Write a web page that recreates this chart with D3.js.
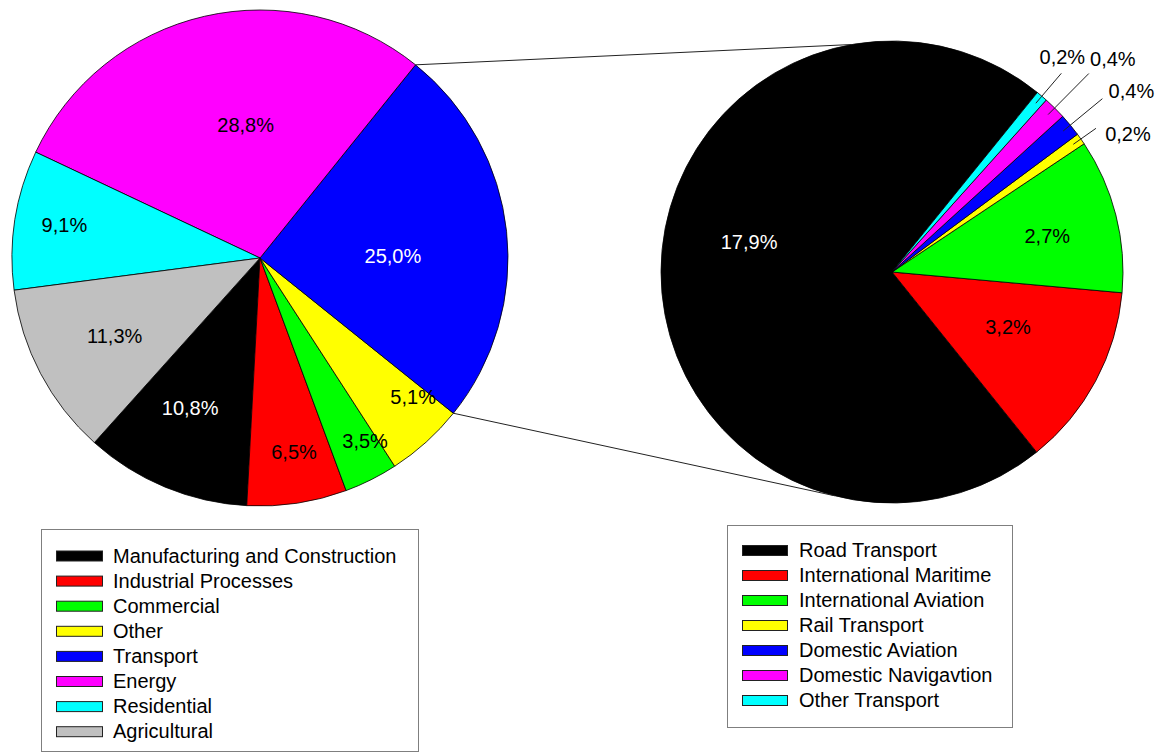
<!DOCTYPE html>
<html>
<head>
<meta charset="utf-8">
<script src="https://cdn.jsdelivr.net/npm/d3@7"></script>
<style>
  html, body { margin: 0; padding: 0; background: #fff; }
  svg { display: block; font-family: "Liberation Sans", Arial, sans-serif; }
</style>
</head>
<body>
<svg id="chart" width="1160" height="753"></svg>
<script>
// ---- data ----
const mainCategories = ["Manufacturing and Construction", "Industrial Processes", "Commercial", "Other", "Transport", "Energy", "Residential", "Agricultural"];
const mainValues = [10.8, 6.5, 3.5, 5.1, 25.0, 28.8, 9.1, 11.3];
const mainColors = ["#000000", "#ff0000", "#00ff00", "#ffff00", "#0000ff", "#ff00ff", "#00ffff", "#c0c0c0"];

const subCategories = ["Road Transport", "International Maritime", "International Aviation", "Rail Transport", "Domestic Aviation", "Domestic Navigavtion", "Other Transport"];
const subValues = [17.9, 3.2, 2.7, 0.2, 0.4, 0.4, 0.2];
const subColors = ["#000000", "#ff0000", "#00ff00", "#ffff00", "#0000ff", "#ff00ff", "#00ffff"];

// ---- layout (not data) ----
const mainCenter = [260, 258], mainR = 248;
const subCenter = [892, 272], subR = 231;
const deg = Math.PI / 180;
const mainStart = 221.9, subStart = 399;
const mainLabelRadius = [0.667, 0.795, 0.85, 0.834, 0.536, 0.54, 0.80, 0.664];
const mainLabelTurn = [2.5, -1.3, -3.3, -5.7, 5.3, 6.8, 0.7, -0.3];
const subLabelRadius = [0.632, 0.556, 0.69, null, null, null, null];
const subLabelTurn = [11.7, -2.8, 1.2, 0, 0, 0, 0];
const subLeaderRadius = [null, null, null, 1.08, 1.18, 1.21, 1.13];
const subLabelOffset = [null, null, null, [32, 5], [29, -8], [24, -15], [1, -17]];
const connectorAngles = [-10, 194.4];
const fontSize = 20;

const fmt = d3.formatLocale({decimal: ",", thousands: ".", grouping: [3], currency: ["", ""]}).format(".1f");
const svg = d3.select("#chart");

function polar(c, r, a) { return [c[0] + r * Math.sin(a), c[1] - r * Math.cos(a)]; }
function textColor(color) { return (color === "#000000" || color === "#0000ff") ? "#ffffff" : "#000000"; }

// ---- main pie ----
const mainPie = d3.pie().sort(null).value(d => d)
  .startAngle(mainStart * deg).endAngle((mainStart - 360) * deg);
const mainArcs = mainPie(mainValues);
const mainArc = d3.arc().innerRadius(0).outerRadius(mainR);

const gMain = svg.append("g").attr("transform", `translate(${mainCenter})`);
gMain.selectAll("path").data(mainArcs).join("path")
  .attr("d", mainArc)
  .attr("fill", (d, i) => mainColors[i])
  .attr("stroke", "#000").attr("stroke-width", 0.8).attr("stroke-linejoin", "round");

gMain.selectAll("text").data(mainArcs).join("text")
  .attr("transform", (d, i) => {
    const a = (d.startAngle + d.endAngle) / 2 + mainLabelTurn[i] * deg;
    const p = polar([0, 0], mainR * mainLabelRadius[i], a);
    return `translate(${p})`;
  })
  .attr("text-anchor", "middle").attr("dy", "0.36em")
  .attr("font-size", fontSize)
  .attr("fill", (d, i) => textColor(mainColors[i]))
  .text(d => fmt(d.value) + "%");

// ---- sub pie ----
const subPie = d3.pie().sort(null).value(d => d)
  .startAngle(subStart * deg).endAngle((subStart - 360) * deg);
const subArcs = subPie(subValues);
const subArc = d3.arc().innerRadius(0).outerRadius(subR);

const gSub = svg.append("g").attr("transform", `translate(${subCenter})`);
gSub.selectAll("path").data(subArcs).join("path")
  .attr("d", subArc)
  .attr("fill", (d, i) => subColors[i])
  .attr("stroke", "#000").attr("stroke-width", 0.8).attr("stroke-linejoin", "round");

subArcs.forEach((d, i) => {
  const a = (d.startAngle + d.endAngle) / 2;
  const label = fmt(d.value) + "%";
  if (subLabelRadius[i] != null) {
    const p = polar([0, 0], subR * subLabelRadius[i], a + subLabelTurn[i] * deg);
    gSub.append("text").attr("transform", `translate(${p})`)
      .attr("text-anchor", "middle").attr("dy", "0.36em")
      .attr("font-size", fontSize).attr("fill", textColor(subColors[i]))
      .text(label);
  } else {
    const p0 = polar([0, 0], subR * 0.96, a);
    const p1 = polar([0, 0], subR * subLeaderRadius[i], a);
    gSub.append("line").attr("x1", p0[0]).attr("y1", p0[1]).attr("x2", p1[0]).attr("y2", p1[1])
      .attr("stroke", "#222").attr("stroke-width", 1);
    gSub.append("text")
      .attr("x", p1[0] + subLabelOffset[i][0]).attr("y", p1[1] + subLabelOffset[i][1])
      .attr("text-anchor", "middle").attr("dy", "0.36em")
      .attr("font-size", fontSize).attr("fill", "#000")
      .text(label);
  }
});

// ---- connector lines from exploded slice ----
const transport = mainArcs[mainCategories.indexOf("Transport")];
const leftEnds = [polar(mainCenter, mainR, transport.endAngle), polar(mainCenter, mainR, transport.startAngle)];
const rightEnds = connectorAngles.map(a => polar(subCenter, subR, a * deg));
leftEnds.forEach((p, i) => {
  svg.append("line").attr("x1", p[0]).attr("y1", p[1])
    .attr("x2", rightEnds[i][0]).attr("y2", rightEnds[i][1])
    .attr("stroke", "#222").attr("stroke-width", 1);
});

// ---- legends ----
function legend(x, y, w, h, items, colors, rowStart, rowStep, swX, swW, txtX) {
  const g = svg.append("g");
  g.append("rect").attr("x", x + 0.5).attr("y", y + 0.5).attr("width", w).attr("height", h)
    .attr("fill", "#fff").attr("stroke", "#7f7f7f").attr("stroke-width", 1);
  const rowY = d3.scaleLinear().domain([0, 1]).range([rowStart, rowStart + rowStep]);
  items.forEach((name, i) => {
    const cy = rowY(i);
    g.append("rect").attr("x", swX + 0.5).attr("y", cy - 5 + 0.5).attr("width", swW).attr("height", 10)
      .attr("fill", colors[i]).attr("stroke", "#222").attr("stroke-width", 1);
    g.append("text").attr("x", txtX).attr("y", cy).attr("dy", "0.36em")
      .attr("font-size", 20).attr("fill", "#000").text(name);
  });
}
legend(41, 529, 377, 222, mainCategories, mainColors, 555.5, 25.1, 56, 46, 113);
legend(727, 525, 285, 202, subCategories, subColors, 550, 25, 742, 45, 799);
</script>
</body>
</html>
